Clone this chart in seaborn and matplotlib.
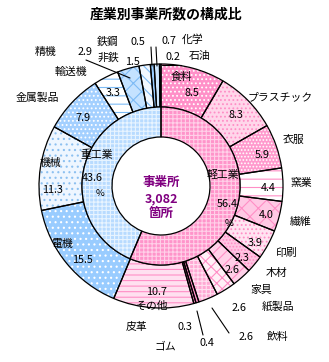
import matplotlib
matplotlib.use("Agg")
import matplotlib.pyplot as plt
import seaborn as sns

# ---------------- data ----------------
outer_names = ['食料', 'プラスチック', '衣服', '窯業', '繊維', '印刷', '木材', '家具',
               '紙製品', '飲料', 'ゴム', '皮革', 'その他',
               '電機', '機械', '金属製品', '輸送機', '精機', '非鉄', '鉄鋼', '化学', '石油']
outer_values = [8.5, 8.3, 5.9, 4.4, 4.0, 3.9, 2.3, 2.6,
                2.6, 2.6, 0.4, 0.3, 10.7,
                15.5, 11.3, 7.9, 3.3, 2.9, 1.5, 0.5, 0.7, 0.2]
inner_names = ['軽工業', '重工業']
inner_values = [56.4, 43.6]
title = '産業別事業所数の構成比'
center_text = ['事業所', '3,082', '箇所']

# ---------------- style ----------------
sns.set_theme(style='white')
plt.rcParams['font.family'] = ['Noto Sans CJK JP', 'DejaVu Sans']
plt.rcParams['hatch.linewidth'] = 0.8

W, H = 329, 362
fig = plt.figure(figsize=(W / 100, H / 100), dpi=100)
ax = fig.add_axes([0, 0, 1, 1])

CX, CY = 161, H - 186
R_OUT, R_MID, R_IN = 122, 79, 49

outer_face = ['#FF90C8', '#FFD6EA', '#FF9ACD', '#FFFFFF', '#FFC8E4', '#FFE4F1', '#FFC4E2', '#FFD0E8',
              '#FFF0F7', '#FFA8D4', '#FF8EC6', '#FF8EC6', '#FFE0F0',
              '#99CCFF', '#EEF6FF', '#A4D0FF', '#FFFFFF', '#C4E2FF', '#F2F8FF', '#99CCFF', '#CCE6FF', '#99CCFF']
outer_hcol = ['#FFFFFF', '#FF8EC6', '#FFFFFF', '#FF8EC6', '#FF8EC6', '#FF8EC6', '#FF8EC6', '#FF8EC6',
              '#FF8EC6', '#FFE0F0', '#FF8EC6', '#FF8EC6', '#FF8EC6',
              '#FFFFFF', '#8CC0F0', '#FFFFFF', '#7DBBF5', '#7DBBF5', '#7DBBF5', '#7DBBF5', '#7DBBF5', '#7DBBF5']
outer_hatch = ['....', '....', '.....', '--', 'xx', '....', '.....', '///',
               'xxx', '++++', '', '', '---',
               '...', '...', '....', '--', 'xx', '\\\\\\', '', '', '']
inner_face = ['#FF94CA', '#B8DBFF']
inner_hcol = ['#FFD0E8', '#E8F4FF']
inner_hatch = ['++++', '++++']


def ring(values, r, width, faces, hcols, hatches):
    common = dict(radius=r, center=(CX, CY), startangle=90, counterclock=False, normalize=True)
    ax.pie(values, colors=faces, wedgeprops=dict(width=width, linewidth=0), **common)
    w2, _ = ax.pie(values, wedgeprops=dict(width=width, linewidth=0), **common)
    for w, hc, ht in zip(w2, hcols, hatches):
        w.set_facecolor('none')
        w.set_edgecolor(hc)
        w.set_hatch(ht)
    ax.pie(values, wedgeprops=dict(width=width, linewidth=0.9,
                                   edgecolor='black', facecolor='none'), **common)


ring(outer_values, R_OUT, R_OUT - R_MID, outer_face, outer_hcol, outer_hatch)
ring(inner_values, R_MID, R_MID - R_IN, inner_face, inner_hcol, inner_hatch)

ax.set_xlim(0, W)
ax.set_ylim(0, H)
ax.set_aspect('equal')
ax.axis('off')

FS = 7.8
# label positions in pixel coordinates (x, y from top)
name_pos = {
    '食料': (181, 77), 'プラスチック': (280, 97), '衣服': (294, 140), '窯業': (301, 183),
    '繊維': (301, 222), '印刷': (287, 253), '木材': (277, 273), '家具': (261, 290),
    '紙製品': (278, 307), '飲料': (278, 337), 'ゴム': (165, 347), '皮革': (137, 327),
    'その他': (152, 306), '電機': (62, 244), '機械': (50, 163), '金属製品': (37, 98),
    '輸送機': (71, 72), '精機': (46, 52), '非鉄': (108, 58), '鉄鋼': (108, 42),
    '化学': (193, 40), '石油': (200, 56),
}
value_pos = {
    '食料': (192, 93), 'プラスチック': (236, 115), '衣服': (262, 155), '窯業': (268, 188),
    '繊維': (266, 215), '印刷': (255, 243), '木材': (242, 258), '家具': (232, 270),
    '紙製品': (239, 308), '飲料': (246, 337), 'ゴム': (207, 343), '皮革': (185, 327),
    'その他': (157, 292), '電機': (82, 260), '機械': (52, 190), '金属製品': (83, 118),
    '輸送機': (113, 93), '精機': (85, 52), '非鉄': (132, 62), '鉄鋼': (138, 42),
    '化学': (169, 41), '石油': (173, 57),
}

for n, v in zip(outer_names, outer_values):
    x, y = name_pos[n]
    ax.text(x, H - y, n, ha='center', va='center', fontsize=FS, color='black')
    x, y = value_pos[n]
    ax.text(x, H - y, f'{v:.1f}', ha='center', va='center', fontsize=FS, color='black')

inner_name_pos = {'軽工業': (223, 175), '重工業': (97, 155)}
inner_val_pos = {'軽工業': (227, 204), '重工業': (92, 178)}
inner_pct_pos = {'軽工業': (229, 223), '重工業': (100, 193)}
for n, v in zip(inner_names, inner_values):
    x, y = inner_name_pos[n]
    ax.text(x, H - y, n, ha='center', va='center', fontsize=FS, color='black')
    x, y = inner_val_pos[n]
    ax.text(x, H - y, f'{v:.1f}', ha='center', va='center', fontsize=FS, color='black')
    x, y = inner_pct_pos[n]
    ax.text(x, H - y, '%', ha='center', va='center', fontsize=FS - 1, color='black')

for t, y in zip(center_text, [182, 199, 213]):
    ax.text(161, H - y, t, ha='center', va='center', fontsize=9, fontweight='bold', color='#800080')

ax.text(166, H - 14, title, ha='center', va='center', fontsize=10, fontweight='bold', color='black')

# leader lines
leaders = [((86, 60), (130, 78)), ((151, 47), (152, 66)), ((156, 47), (157, 66)),
           ((162, 65), (181, 65)), ((212, 308), (229, 333)), ((197, 311), (203, 335))]
for (x0, y0), (x1, y1) in leaders:
    ax.plot([x0, x1], [H - y0, H - y1], color='black', lw=0.8)

fig.savefig('out.png', dpi=100)
